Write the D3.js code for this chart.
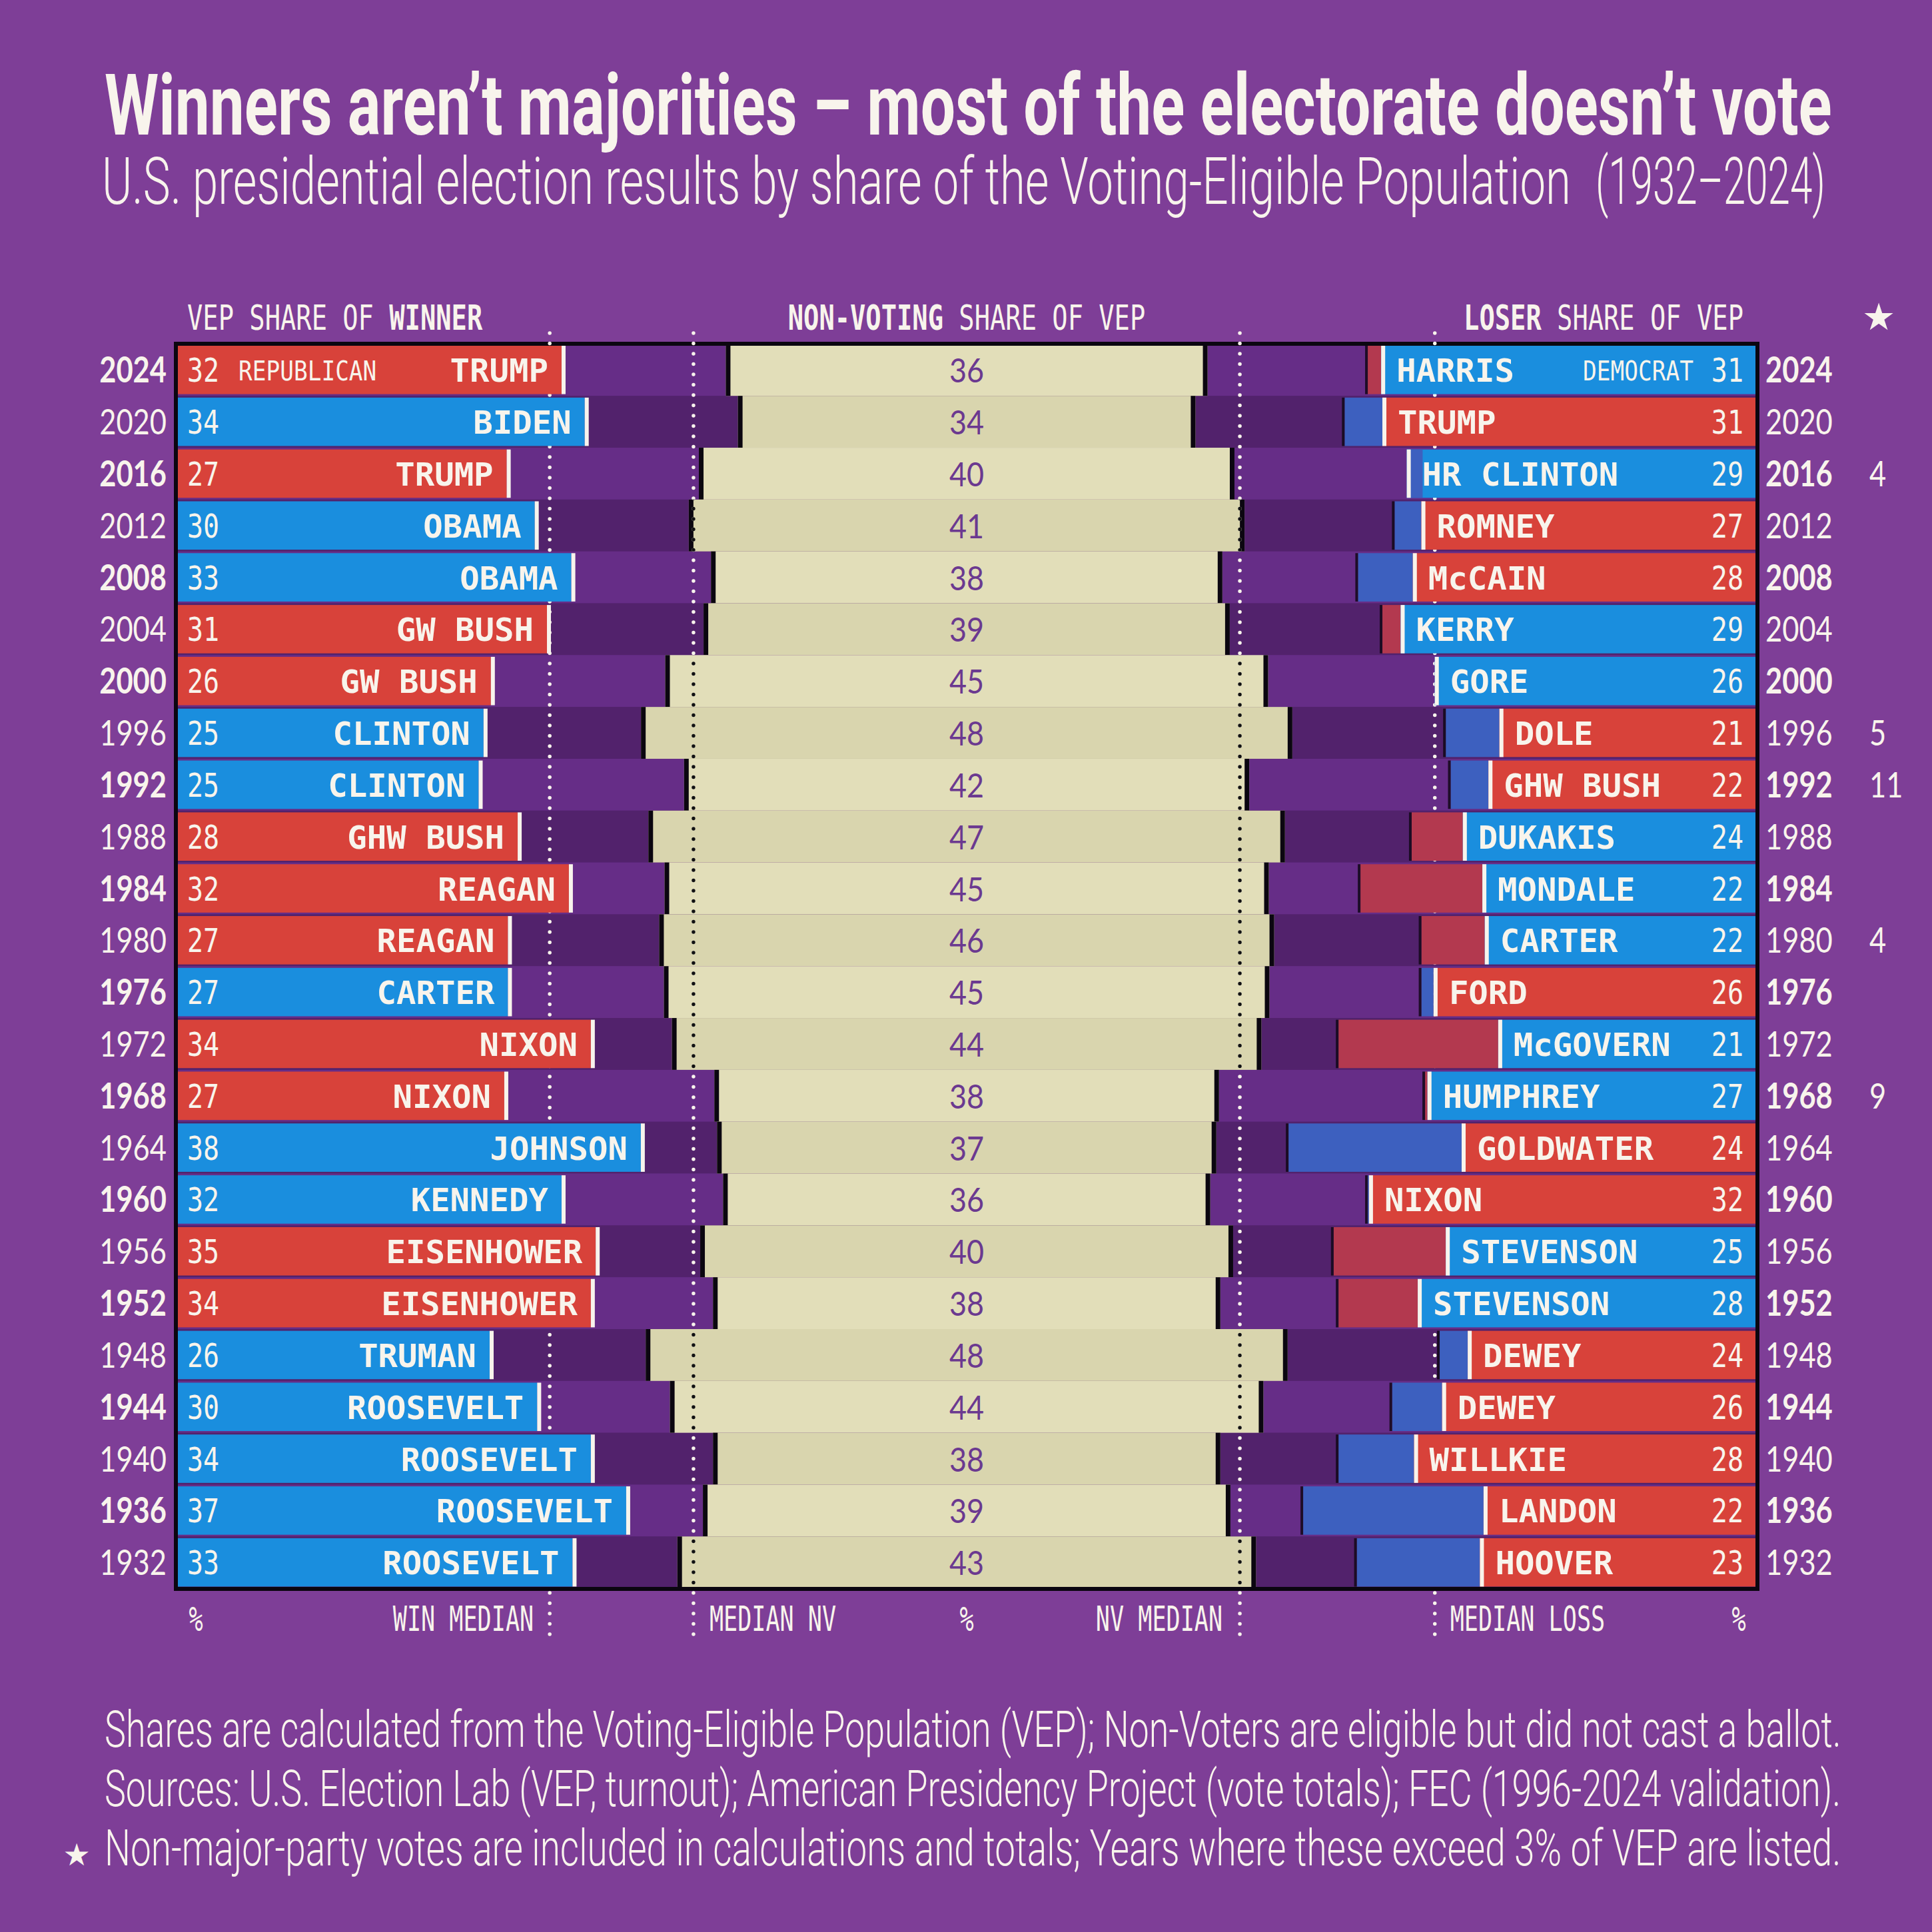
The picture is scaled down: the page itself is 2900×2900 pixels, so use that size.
<!DOCTYPE html>
<html><head><meta charset="utf-8">
<script src="https://cdn.jsdelivr.net/npm/d3@7"></script>
<style>html,body{margin:0;padding:0;background:#7e3e97;} svg{display:block}</style>
</head><body>
<script>
// ---------------- DATA ----------------
const years = [2024,2020,2016,2012,2008,2004,2000,1996,1992,1988,1984,1980,1976,1972,1968,1964,1960,1956,1952,1948,1944,1940,1936,1932];
const winnerNames = ["TRUMP","BIDEN","TRUMP","OBAMA","OBAMA","GW BUSH","GW BUSH","CLINTON","CLINTON","GHW BUSH","REAGAN","REAGAN","CARTER","NIXON","NIXON","JOHNSON","KENNEDY","EISENHOWER","EISENHOWER","TRUMAN","ROOSEVELT","ROOSEVELT","ROOSEVELT","ROOSEVELT"];
const winnerParty = ["R","D","R","D","D","R","R","D","D","R","R","R","D","R","R","D","D","R","R","D","D","D","D","D"];
const winnerShare = [31.8,33.7,27.3,29.6,32.6,30.6,26.0,25.4,25.0,28.2,32.4,27.4,27.4,34.2,27.1,38.3,31.8,34.6,34.2,25.9,29.8,34.2,37.1,32.7];
const loserNames = ["HARRIS","TRUMP","HR CLINTON","ROMNEY","McCAIN","KERRY","GORE","DOLE","GHW BUSH","DUKAKIS","MONDALE","CARTER","FORD","McGOVERN","HUMPHREY","GOLDWATER","NIXON","STEVENSON","STEVENSON","DEWEY","DEWEY","WILLKIE","LANDON","HOOVER"];
const loserShare = [30.7,30.6,28.6,27.4,28.1,29.1,26.3,21.0,21.9,24.0,22.4,22.2,26.4,21.1,26.9,24.1,31.7,25.4,27.7,23.6,25.7,28.0,22.3,22.6];
const nonVoting = [35.8,34.0,39.8,41.3,38.0,39.1,44.8,48.4,42.0,47.3,44.9,45.7,45.0,43.8,37.5,37.1,36.2,39.6,37.7,47.7,44.1,37.7,39.2,43.0];
const otherYears = [2016,1996,1992,1980,1968];
const otherShare = [4,5,11,4,9];
const medianLabels = ["win","nv","loss"];
const medianValues = [30.5,40.6,26.3];
const partyLabels = {R:"REPUBLICAN", D:"DEMOCRAT"};

const titleText = "Winners aren\u2019t majorities \u2013 most of the electorate doesn\u2019t vote";
const subtitleText = "U.S. presidential election results by share of the Voting-Eligible Population";
const subtitleYears = "(1932\u20132024)";
const notes = [
 "Shares are calculated from the Voting-Eligible Population (VEP); Non-Voters are eligible but did not cast a ballot.",
 "Sources: U.S. Election Lab (VEP, turnout); American Presidency Project (vote totals); FEC (1996-2024 validation).",
 "Non-major-party votes are included in calculations and totals; Years where these exceed 3% of VEP are listed."
];

// ---------------- STYLE ----------------
const W = 2900, H = 2900;
const BG = "#7e3e97", WHITE = "#f8f4ec";
const COL = {R:"#d8423a", D:"#1a8ede"};
const MUTED = {R:"#b3394f", D:"#3d60bf"};
const ROWL = "#662d87", ROWD = "#52226c", INNER = "#5b2779";
const BEIGE = ["#e2deb9","#d9d5ae"];
const NVTXT = "#6b3990";
const MONO = "'DejaVu Sans Mono', monospace";
const SANS = "Lato, 'Open Sans', sans-serif";
const ROBO = "Roboto, 'Open Sans', sans-serif";

const fx0 = 267, fx1 = 2635, fy0 = 519, fy1 = 2382;
const cx = (fx0 + fx1) / 2;

const svg = d3.select("body").append("svg").attr("width", W).attr("height", H);
svg.append("rect").attr("width", W).attr("height", H).attr("fill", BG);

function T(parent, x, y, o) {
  let sx = o.sx || 1;
  const t = parent.append("text")
    .attr("font-family", o.family || MONO)
    .attr("font-size", o.size)
    .attr("font-weight", o.weight || 400)
    .attr("text-anchor", o.anchor || "start")
    .attr("fill", o.fill || WHITE);
  if (o.parts) o.parts.forEach(p => t.append("tspan").attr("font-weight", p.w).text(p.t));
  else t.text(o.text);
  if (o.len) {
    const L = t.node().getComputedTextLength();
    if (L > 0) sx = o.len / L;
  }
  t.attr("transform", `translate(${x},${y}) scale(${sx},1)`);
  return t;
}

// ---------------- SCALES ----------------
const rows = years.map((y, i) => ({
  year: y, i,
  wName: winnerNames[i], wParty: winnerParty[i], w: winnerShare[i],
  lName: loserNames[i], lParty: winnerParty[i] === "R" ? "D" : "R", l: loserShare[i],
  nv: nonVoting[i]
}));
const y = d3.scaleBand().domain(years).range([fy0, fy1 - 0.5]).paddingInner(0.067).paddingOuter(0);
const bw = y.bandwidth(), gap = y.step() - bw;
const xWin = d3.scaleLinear().domain([0, 100]).range([fx0, fx0 + 1830]);
const xLose = d3.scaleLinear().domain([0, 100]).range([fx1, fx1 - 1830]);
const nvHalf = d3.scaleLinear().domain([0, 100]).range([0, 1010]);

// ---------------- TITLES ----------------
T(svg, 157, 202, {text: titleText, family: ROBO, size: 128, weight: 700, len: 2593});
T(svg, 153, 306, {text: subtitleText, family: ROBO, size: 98, weight: 300, len: 2205});
T(svg, 2395, 306, {text: subtitleYears, family: ROBO, size: 98, weight: 300, len: 345});

// column headers
T(svg, 281, 495, {parts: [{t: "VEP SHARE OF ", w: 400}, {t: "WINNER", w: 700}], size: 51, sx: 0.76});
T(svg, cx, 495, {parts: [{t: "NON-VOTING", w: 700}, {t: " SHARE OF VEP", w: 400}], size: 51, sx: 0.76, anchor: "middle"});
T(svg, 2617, 495, {parts: [{t: "LOSER", w: 700}, {t: " SHARE OF VEP", w: 400}], size: 51, sx: 0.76, anchor: "end"});
T(svg, 2820, 495, {text: "\u2605", family: "'DejaVu Sans', sans-serif", size: 56, anchor: "middle"});

// ---------------- FRAME ----------------
svg.append("rect").attr("x", fx0 - 6).attr("y", fy0 - 6).attr("width", fx1 - fx0 + 12).attr("height", fy1 - fy0 + 12).attr("fill", "#0b0610");
svg.append("rect").attr("x", fx0).attr("y", fy0).attr("width", fx1 - fx0).attr("height", fy1 - fy0).attr("fill", INNER);

const defs = svg.append("defs");
defs.append("clipPath").attr("id", "inner").append("rect").attr("x", fx0).attr("y", fy0).attr("width", fx1 - fx0).attr("height", fy1 - fy0);
const nvClip = defs.append("clipPath").attr("id", "nvclip");

const plot = svg.append("g").attr("clip-path", "url(#inner)");
// row bands
plot.selectAll("rect.band").data(rows).join("rect").attr("class", "band")
  .attr("x", fx0).attr("width", fx1 - fx0)
  .attr("y", d => y(d.year) - gap / 2).attr("height", y.step())
  .attr("fill", d => d.i % 2 ? ROWD : ROWL);

// non-voting boxes
const nvG = plot.append("g");
rows.forEach(d => {
  const h = nvHalf(d.nv), y0 = y(d.year) - gap / 2, hh = y.step();
  nvG.append("rect").attr("x", cx - h).attr("y", y0).attr("width", 2 * h).attr("height", hh).attr("fill", BEIGE[d.i % 2]);
  nvG.append("rect").attr("x", cx - h).attr("y", y0).attr("width", 7).attr("height", hh).attr("fill", "#0b0610");
  nvG.append("rect").attr("x", cx + h - 7).attr("y", y0).attr("width", 7).attr("height", hh).attr("fill", "#0b0610");
  nvClip.append("rect").attr("x", cx - h).attr("y", y0).attr("width", 2 * h).attr("height", hh);
});

// ---------------- MEDIAN DOTTED LINES ----------------
const medX = [xWin(medianValues[0]), cx - nvHalf(medianValues[1]), cx + nvHalf(medianValues[1]), xLose(medianValues[2])];
const dotG = svg.append("g");
medX.forEach(x => {
  dotG.append("line").attr("x1", x).attr("x2", x).attr("y1", 500).attr("y2", 2466)
    .attr("stroke", WHITE).attr("stroke-width", 5.5).attr("stroke-linecap", "round").attr("stroke-dasharray", "0 15.5");
});
const dotB = svg.append("g").attr("clip-path", "url(#nvclip)");
medX.forEach(x => {
  dotB.append("line").attr("x1", x).attr("x2", x).attr("y1", 500).attr("y2", 2466)
    .attr("stroke", "#111").attr("stroke-width", 5.5).attr("stroke-linecap", "round").attr("stroke-dasharray", "0 15.5");
});

// ---------------- BARS ----------------
const bars = svg.append("g");
rows.forEach(d => {
  const yt = y(d.year);
  // winner
  bars.append("rect").attr("x", xWin(0)).attr("y", yt).attr("width", xWin(d.w) - xWin(0) - 6).attr("height", bw).attr("fill", COL[d.wParty]);
  bars.append("rect").attr("x", xWin(d.w) - 6).attr("y", yt).attr("width", 6).attr("height", bw).attr("fill", WHITE);
  // loser
  const hi = Math.max(d.w, d.l), lo = Math.min(d.w, d.l);
  const leader = d.w >= d.l ? d.wParty : d.lParty;
  if (d.w > d.l) {
    bars.append("rect").attr("x", xLose(hi)).attr("y", yt).attr("width", xLose(lo) - xLose(hi)).attr("height", bw).attr("fill", MUTED[leader]);
    bars.append("rect").attr("x", xLose(hi) - 4).attr("y", yt).attr("width", 4).attr("height", bw).attr("fill", "#120818").attr("opacity", 0.85);
  }
  bars.append("rect").attr("x", xLose(d.l)).attr("y", yt).attr("width", xLose(0) - xLose(d.l)).attr("height", bw).attr("fill", COL[d.lParty]);
  if (d.l > d.w) {
    bars.append("rect").attr("x", xLose(hi)).attr("y", yt).attr("width", xLose(lo) - xLose(hi)).attr("height", bw).attr("fill", MUTED[leader]);
  }
  bars.append("rect").attr("x", xLose(d.l)).attr("y", yt).attr("width", 6).attr("height", bw).attr("fill", WHITE);
});

// ---------------- ROW TEXT ----------------
const txt = svg.append("g");
rows.forEach(d => {
  const base = y(d.year) + bw / 2 + 18;
  const bold = d.i % 2 === 0 ? 700 : 400;
  T(txt, 250, base + 1, {text: d.year, family: SANS, size: 53, weight: bold, anchor: "end", sx: 0.82});
  T(txt, 2650, base + 1, {text: d.year, family: SANS, size: 53, weight: bold, sx: 0.82});
  T(txt, 281, base, {text: Math.round(d.w), size: 50, sx: 0.8});
  T(txt, xWin(d.w) - 26, base, {text: d.wName, size: 48, weight: 700, anchor: "end", sx: 1.02});
  T(txt, 2617, base, {text: Math.round(d.l), size: 50, sx: 0.8, anchor: "end"});
  T(txt, xLose(d.l) + 23, base, {text: d.lName, size: 48, weight: 700, sx: 1.02});
  T(txt, cx, base + 1, {text: Math.round(d.nv), family: SANS, size: 51, fill: NVTXT, anchor: "middle", sx: 0.88});
  if (d.i === 0) {
    T(txt, 358, base - 2, {text: partyLabels[d.wParty], size: 41, sx: 0.84});
    T(txt, 2542, base - 2, {text: partyLabels[d.lParty], size: 41, sx: 0.84, anchor: "end"});
  }
});
otherYears.forEach((yr, k) => {
  T(txt, 2806, y(yr) + bw / 2 + 19, {text: otherShare[k], family: SANS, size: 53, sx: 0.82});
});

// ---------------- BOTTOM LABELS ----------------
const bl = 2448;
T(svg, 294, bl, {text: "%", size: 52, sx: 0.675, anchor: "middle"});
T(svg, medX[0] - 24, bl, {text: "WIN MEDIAN", size: 52, sx: 0.675, anchor: "end"});
T(svg, medX[1] + 24, bl, {text: "MEDIAN NV", size: 52, sx: 0.675});
T(svg, cx, bl, {text: "%", size: 52, sx: 0.675, anchor: "middle"});
T(svg, medX[2] - 26, bl, {text: "NV MEDIAN", size: 52, sx: 0.675, anchor: "end"});
T(svg, medX[3] + 23, bl, {text: "MEDIAN LOSS", size: 52, sx: 0.675});
T(svg, 2610, bl, {text: "%", size: 52, sx: 0.675, anchor: "middle"});

// ---------------- NOTES ----------------
notes.forEach((n, k) => {
  T(svg, 157, 2622 + k * 89, {text: n, family: ROBO, size: 76, weight: 300, len: 2607});
});
T(svg, 115, 2800, {text: "\u2605", family: "'DejaVu Sans', sans-serif", size: 46, anchor: "middle"});
</script>
</body></html>
